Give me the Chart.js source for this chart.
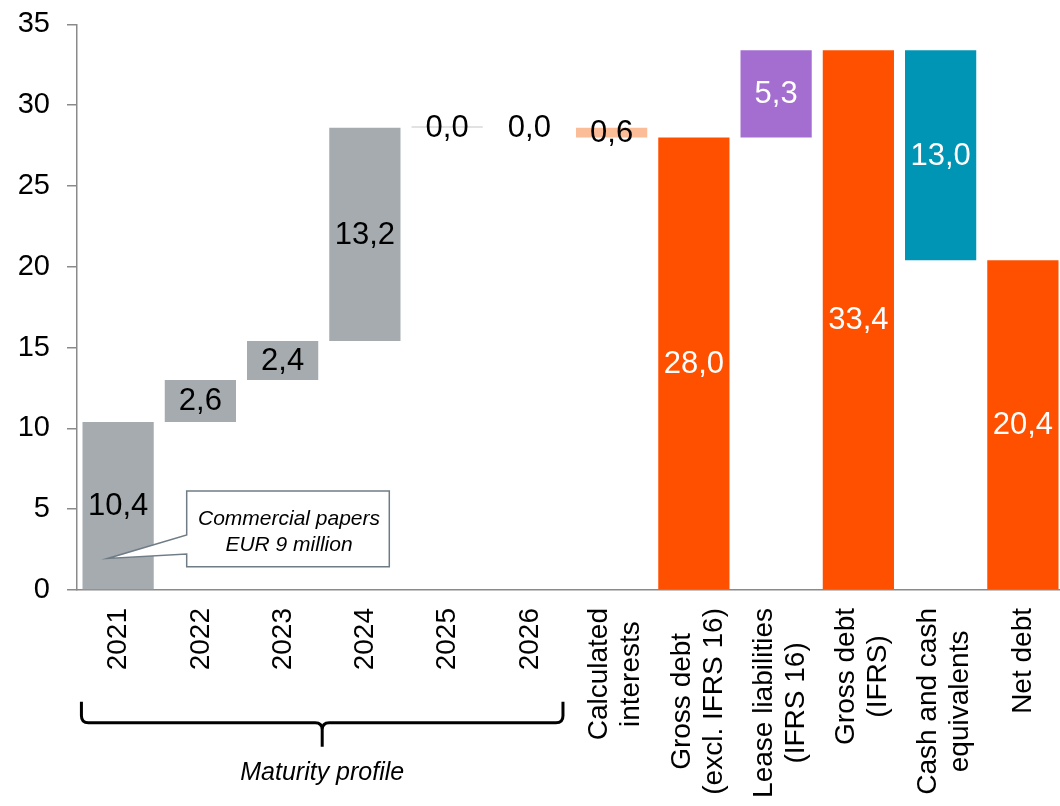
<!DOCTYPE html>
<html>
<head>
<meta charset="utf-8">
<script src="https://cdn.jsdelivr.net/npm/chart.js@4.4.1/dist/chart.umd.min.js"></script>
<style>
  html, body { margin: 0; padding: 0; overflow: hidden; background: #fff; }
  canvas { display: block; }
</style>
</head>
<body>
<canvas id="c" width="1064" height="806"></canvas>
<script>
// ---- Data ----
const categories = ['2021', '2022', '2023', '2024', '2025', '2026',
  ['Calculated', 'interests'], ['Gross debt', '(excl. IFRS 16)'],
  ['Lease liabilities', '(IFRS 16)'], ['Gross debt', '(IFRS)'],
  ['Cash and cash', 'equivalents'], 'Net debt'];
const barStart = [0, 10.4, 13.0, 15.4, 28.6, 28.6, 28.0, 0, 28.0, 0, 20.4, 0];
const barEnd   = [10.4, 13.0, 15.4, 28.6, 28.6, 28.6, 28.6, 28.0, 33.4, 33.4, 33.4, 20.4];
const valueLabels = [10.4, 2.6, 2.4, 13.2, 0.0, 0.0, 0.6, 28.0, 5.3, 33.4, 13.0, 20.4];
const barColors = ['#A5ABAE', '#A5ABAE', '#A5ABAE', '#A5ABAE', '#D9D9D9', 'rgba(0,0,0,0)',
  '#FBBD98', '#FF5000', '#A46ED1', '#FF5000', '#0095B5', '#FF5000'];
const labelColors = ['#000', '#000', '#000', '#000', '#000', '#000',
  '#000', '#fff', '#fff', '#fff', '#fff', '#fff'];
const yTicks = [0, 5, 10, 15, 20, 25, 30, 35];
const bracketText = 'Maturity profile';
const calloutLines = ['Commercial papers', 'EUR 9 million'];

const FONT = '"Liberation Sans", Arial, Helvetica, sans-serif';
const AXIS = '#8A8A8A';

const valueLabelPlugin = {
  id: 'valueLabels',
  afterDatasetsDraw(chart) {
    const ctx = chart.ctx;
    const meta = chart.getDatasetMeta(0);
    ctx.save();
    ctx.font = '31px ' + FONT;
    ctx.textAlign = 'center';
    ctx.textBaseline = 'middle';
    meta.data.forEach((el, i) => {
      const y = (el.y + el.base) / 2;
      ctx.fillStyle = labelColors[i];
      ctx.fillText(valueLabels[i].toFixed(1).replace('.', ','), el.x, y + 1);
    });
    ctx.restore();
  }
};

const decorPlugin = {
  id: 'decor',
  afterDraw(chart) {
    const ctx = chart.ctx;
    const xs = chart.scales.x, ys = chart.scales.y;
    const axisY = chart.chartArea.bottom;
    ctx.save();
    // x labels (rotated, centred lines)
    ctx.font = '28px ' + FONT;
    ctx.fillStyle = '#000';
    ctx.textAlign = 'center';
    ctx.textBaseline = 'middle';
    categories.forEach((cat, i) => {
      const lines = Array.isArray(cat) ? cat : [cat];
      const maxW = Math.max(...lines.map(l => ctx.measureText(l).width));
      const x = xs.getPixelForValue(i) + (lines.length > 1 ? 4 : 0.5);
      ctx.save();
      ctx.translate(x, axisY + 18);
      ctx.rotate(-Math.PI / 2);
      lines.forEach((l, j) => {
        ctx.fillText(l, -maxW / 2, (j - (lines.length - 1) / 2) * 32);
      });
      ctx.restore();
    });

    // bracket
    const bl = xs.getPixelForValue(0) - 36.7;
    const br = xs.getPixelForValue(5) + 33.6;
    const bm = (bl + br) / 2;
    const bt = 701.7, bh = 722.7, bb = 746.7;
    ctx.strokeStyle = '#000';
    ctx.lineWidth = 3;
    ctx.lineCap = 'butt';
    ctx.beginPath();
    ctx.moveTo(bl, bt);
    ctx.lineTo(bl, bh - 7);
    ctx.quadraticCurveTo(bl, bh, bl + 7, bh);
    ctx.lineTo(bm - 7, bh);
    ctx.quadraticCurveTo(bm, bh, bm, bh + 7);
    ctx.lineTo(bm, bb);
    ctx.moveTo(bm, bh + 7);
    ctx.quadraticCurveTo(bm, bh, bm + 7, bh);
    ctx.lineTo(br - 7, bh);
    ctx.quadraticCurveTo(br, bh, br, bh - 7);
    ctx.lineTo(br, bt);
    ctx.stroke();
    ctx.font = 'italic 25px ' + FONT;
    ctx.textAlign = 'center';
    ctx.textBaseline = 'alphabetic';
    ctx.fillText(bracketText, bm, 780);

    // callout
    const tipX = xs.getPixelForValue(0) - 10.5;
    const tipY = ys.getPixelForValue(1.95);
    const L = 186.7, T = 491, R = 389.3, B = 566.7;
    ctx.beginPath();
    ctx.moveTo(L, T);
    ctx.lineTo(R, T);
    ctx.lineTo(R, B);
    ctx.lineTo(L, B);
    ctx.lineTo(L, 554);
    ctx.lineTo(tipX, tipY);
    ctx.lineTo(L, 535);
    ctx.closePath();
    ctx.fillStyle = '#fff';
    ctx.fill();
    ctx.strokeStyle = '#6F7C85';
    ctx.lineWidth = 1.5;
    ctx.lineJoin = 'miter';
    ctx.stroke();
    ctx.fillStyle = '#000';
    ctx.font = 'italic 21px ' + FONT;
    ctx.fillText(calloutLines[0], 289, 525);
    ctx.fillText(calloutLines[1], 289, 550.5);
    ctx.restore();
  }
};

new Chart(document.getElementById('c'), {
  type: 'bar',
  data: {
    labels: categories,
    datasets: [{
      data: barStart.map((s, i) => [s, barEnd[i]]),
      backgroundColor: barColors,
      borderWidth: 0,
      minBarLength: 1.5,
      barPercentage: 0.866,
      categoryPercentage: 1.0
    }]
  },
  options: {
    responsive: false,
    devicePixelRatio: 1,
    animation: false,
    layout: { padding: { top: 24.3, right: 0, bottom: 0, left: 0 } },
    plugins: {
      legend: { display: false },
      tooltip: { enabled: false },
      title: { display: false }
    },
    scales: {
      x: {
        offset: true,
        grid: { display: true, drawOnChartArea: false, drawTicks: false },
        border: { display: true, color: AXIS, width: 1.5 },
        ticks: {
          autoSkip: false, maxRotation: 90, minRotation: 90,
          color: 'rgba(0,0,0,0)', font: { size: 28, family: FONT }, padding: 18
        },
        afterFit(scale) {
          scale.height = 216;
          scale.paddingLeft = 0; scale.paddingRight = 0;
        }
      },
      y: {
        min: 0, max: 35,
        afterBuildTicks(scale) { scale.ticks = yTicks.map(v => ({ value: v })); },
        grid: { display: true, drawOnChartArea: false, drawTicks: true, tickLength: 10, color: AXIS, lineWidth: 1.5 },
        border: { display: true, color: AXIS, width: 1.5 },
        ticks: {
          color: '#000', font: { size: 29, family: FONT }, padding: 17
        },
        afterFit(scale) {
          scale.width = 77;
          scale.paddingTop = 0; scale.paddingBottom = 0;
        }
      }
    }
  },
  plugins: [valueLabelPlugin, decorPlugin]
});
</script>
</body>
</html>
